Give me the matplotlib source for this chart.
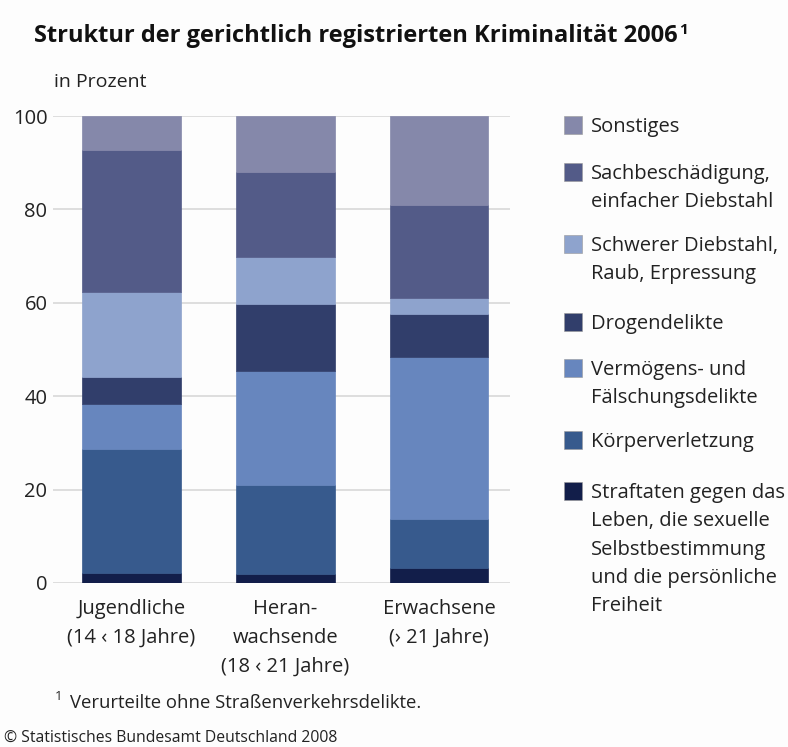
import matplotlib
matplotlib.use("Agg")
import matplotlib.pyplot as plt
from matplotlib.patches import Rectangle
import numpy as np

plt.rcParams['font.family'] = ['Open Sans', 'DejaVu Sans']

categories = ["Jugendliche\n(14 ‹ 18 Jahre)", "Heran-\nwachsende\n(18 ‹ 21 Jahre)", "Erwachsene\n(› 21 Jahre)"]
series_names = [
    "Straftaten gegen das\nLeben, die sexuelle\nSelbstbestimmung\nund die persönliche\nFreiheit",
    "Körperverletzung",
    "Vermögens- und\nFälschungsdelikte",
    "Drogendelikte",
    "Schwerer Diebstahl,\nRaub, Erpressung",
    "Sachbeschädigung,\neinfacher Diebstahl",
    "Sonstiges",
]
straftaten_leben = [2.2, 2.0, 3.2]
koerperverletzung = [26.5, 19.0, 10.4]
vermoegen = [9.6, 24.5, 34.7]
drogen = [5.9, 14.3, 9.2]
schwerer_diebstahl = [18.1, 10.0, 3.5]
sachbeschaedigung = [30.5, 18.3, 19.9]
sonstiges = [7.2, 11.9, 19.1]
series_values = [straftaten_leben, koerperverletzung, vermoegen, drogen,
                 schwerer_diebstahl, sachbeschaedigung, sonstiges]
colors = ["#121e4a", "#375a8d", "#6786be", "#313e6b", "#8ea3cd", "#535b88", "#8588aa"]
yticks = [0, 20, 40, 60, 80, 100]

W, H = 788, 747
fig = plt.figure(figsize=(W / 100, H / 100), dpi=100)
fig.patch.set_facecolor("#fdfdfd")
TXT = "#222222"

def fx(px):
    return px / W

def fy(py):
    return 1 - py / H

ax = fig.add_axes([fx(53), fy(583), fx(510) - fx(53), fy(116) - fy(583)])
ax.set_facecolor("#fdfdfd")
x = np.arange(len(categories))
bottom = np.zeros(len(categories))
for vals, col in zip(series_values, colors):
    ax.bar(x, vals, width=0.64, bottom=bottom, color=col, edgecolor=col, linewidth=0.5, zorder=3)
    bottom += np.array(vals)

ax.set_xlim(-0.51, 2.46)
ax.set_ylim(0, 100)
ax.set_yticks(yticks)
ax.set_yticklabels([str(t) for t in yticks], fontsize=14.5, color=TXT)
ax.tick_params(axis="y", length=0, pad=4)
ax.set_xticks([])
ax.grid(axis="y", color="#d8d8d8", linewidth=1.2, zorder=0)
for s in ax.spines.values():
    s.set_visible(False)

# category labels
for xi, lab in zip(x, categories):
    ax.text(xi, -(599 - 583) / (583 - 116), lab, ha="center", va="top", fontsize=14.5, color=TXT,
            linespacing=1.58, transform=ax.get_xaxis_transform())

# title etc.
title = fig.text(fx(34), fy(36), "Struktur der gerichtlich registrierten Kriminalität 2006", fontsize=17,
                 fontweight="bold", ha="left", va="center", color="#111111")
fig.canvas.draw()
bb = title.get_window_extent()
fig.text(bb.x1 / W + fx(2), fy(30), "1", fontsize=11, fontweight="bold", ha="left", va="center", color="#111111")
fig.text(fx(54), fy(82), "in Prozent", fontsize=14, ha="left", va="center", color=TXT)
fig.text(fx(55), fy(697), "1", fontsize=9.5, ha="left", va="center", color=TXT)
fig.text(fx(70), fy(703), "Verurteilte ohne Straßenverkehrsdelikte.", fontsize=13.3, ha="left", va="center", color=TXT)
fig.text(fx(4), fy(738), "© Statistisches Bundesamt Deutschland 2008", fontsize=11.3, ha="left", va="center", color=TXT)

# legend (top to bottom)
leg_centers = [125, 172, 244, 322, 368, 440, 491]
order = list(range(len(series_names)))[::-1]
for idx, cy in zip(order, leg_centers):
    fig.patches.append(Rectangle((fx(564), fy(cy + 9)), fx(18), fy(0) - fy(18),
                                 transform=fig.transFigure, facecolor=colors[idx],
                                 edgecolor="#999999", linewidth=0.4))
    fig.text(fx(591), fy(cy - 8), series_names[idx], fontsize=14.5, ha="left", va="top",
             color=TXT, linespacing=1.55)
fig.savefig("out.png", dpi=100, facecolor=fig.get_facecolor())
